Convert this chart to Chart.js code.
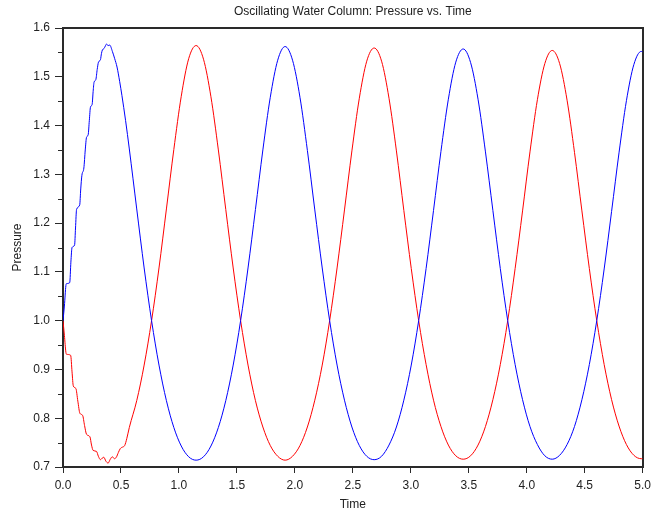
<!DOCTYPE html>
<html>
<head>
<meta charset="utf-8">
<script src="https://cdn.jsdelivr.net/npm/chart.js@4"></script>
<style>
  html, body { margin: 0; padding: 0; background: #fff; }
  #owc { display: block; }
</style>
</head>
<body>
<canvas id="owc" width="656" height="513"></canvas>
<script>
// start-up of the column (steppy part)
var blueStartTime = [0, 0.012, 0.025, 0.031, 0.058, 0.068, 0.078, 0.1, 0.108, 0.117, 0.144, 0.153, 0.163, 0.18, 0.192, 0.203, 0.217, 0.227, 0.237, 0.251, 0.26, 0.268, 0.283, 0.295, 0.306, 0.323, 0.332, 0.34, 0.354, 0.365, 0.375, 0.389, 0.403, 0.426, 0.446, 0.466, 0.489, 0.508, 0.54];
var blueStart = [1.0, 1.03, 1.072, 1.076, 1.078, 1.12, 1.15, 1.155, 1.19, 1.228, 1.237, 1.27, 1.298, 1.313, 1.35, 1.376, 1.381, 1.41, 1.438, 1.443, 1.47, 1.489, 1.494, 1.515, 1.53, 1.535, 1.548, 1.555, 1.558, 1.563, 1.567, 1.564, 1.565, 1.552, 1.537, 1.52, 1.49, 1.462, 1.41];

var redStartTime = [0, 0.012, 0.025, 0.031, 0.066, 0.078, 0.089, 0.111, 0.128, 0.146, 0.169, 0.186, 0.203, 0.232, 0.246, 0.26, 0.289, 0.305, 0.323, 0.338, 0.352, 0.37, 0.389, 0.408, 0.426, 0.443, 0.46, 0.478, 0.495, 0.515, 0.532, 0.55];
var redStart = [1.0, 0.97, 0.935, 0.931, 0.929, 0.895, 0.866, 0.861, 0.835, 0.81, 0.806, 0.785, 0.767, 0.762, 0.745, 0.734, 0.732, 0.722, 0.715, 0.718, 0.72, 0.712, 0.708, 0.716, 0.721, 0.717, 0.72, 0.73, 0.738, 0.741, 0.744, 0.758];

// settled oscillation, shared time samples
var time = [0.572, 0.636, 0.700, 0.764, 0.828, 0.892, 0.956, 1.020, 1.084, 1.148,
  1.212, 1.276, 1.340, 1.404, 1.468, 1.532, 1.596, 1.660, 1.724, 1.788, 1.852, 1.916,
  1.980, 2.044, 2.108, 2.172, 2.236, 2.300, 2.364, 2.428, 2.492, 2.556, 2.620, 2.684,
  2.748, 2.812, 2.876, 2.940, 3.004, 3.068, 3.132, 3.196, 3.260, 3.324, 3.388, 3.452,
  3.516, 3.580, 3.644, 3.708, 3.772, 3.836, 3.900, 3.964, 4.028, 4.092, 4.156, 4.220,
  4.284, 4.348, 4.412, 4.476, 4.540, 4.604, 4.668, 4.732, 4.796, 4.860, 4.924, 4.988, 5.0];
var blue = [1.352, 1.229, 1.108, 1.000, 0.909, 0.836, 0.781, 0.743, 0.721, 0.714,
  0.721, 0.743, 0.781, 0.836, 0.909, 1.000, 1.108, 1.228, 1.350, 1.458, 1.534, 1.562,
  1.534, 1.458, 1.349, 1.227, 1.108, 1.000, 0.909, 0.837, 0.782, 0.744, 0.722, 0.715,
  0.722, 0.745, 0.782, 0.837, 0.909, 1.000, 1.107, 1.226, 1.347, 1.454, 1.530, 1.557,
  1.529, 1.454, 1.346, 1.226, 1.107, 1.000, 0.910, 0.838, 0.783, 0.746, 0.723, 0.716,
  0.724, 0.746, 0.783, 0.838, 0.910, 1.000, 1.106, 1.224, 1.344, 1.451, 1.525, 1.552, 1.551];
var red = [0.781, 0.836, 0.909, 1.000, 1.108, 1.229, 1.351, 1.460, 1.537, 1.564,
  1.536, 1.459, 1.350, 1.228, 1.108, 1.000, 0.909, 0.836, 0.782, 0.744, 0.722, 0.714,
  0.722, 0.744, 0.782, 0.837, 0.909, 1.000, 1.108, 1.227, 1.348, 1.456, 1.532, 1.559,
  1.532, 1.456, 1.348, 1.226, 1.107, 1.000, 0.910, 0.837, 0.783, 0.745, 0.723, 0.716,
  0.723, 0.745, 0.783, 0.838, 0.910, 1.000, 1.107, 1.225, 1.346, 1.453, 1.527, 1.554,
  1.527, 1.452, 1.345, 1.225, 1.107, 1.000, 0.910, 0.838, 0.784, 0.746, 0.724, 0.717, 0.717];

var xTicks = [0, 0.5, 1, 1.5, 2, 2.5, 3, 3.5, 4, 4.5, 5];
var yMinor = [0.75, 0.85, 0.95, 1.05, 1.15, 1.25, 1.35, 1.45, 1.55];

function toPoints(ts, vs) {
    return ts.map(function (t, i) { return { x: t, y: vs[i] }; });
}

var axisColor = '#2a2a2a';
var textColor = '#222222';
var font = { family: '"Liberation Sans", Arial, sans-serif', size: 12 };

// petits traits secondaires sur l'axe des pressions
var minorTicks = {
    id: 'minorTicks',
    afterDraw: function (chart) {
        var ys = chart.scales.y, c = chart.ctx, left = chart.chartArea.left;
        c.save();
        c.strokeStyle = axisColor;
        c.lineWidth = 1;
        yMinor.forEach(function (v) {
            var py = Math.round(ys.getPixelForValue(v)) + 0.5;
            c.beginPath();
            c.moveTo(left - 5, py);
            c.lineTo(left, py);
            c.stroke();
        });
        c.restore();
    }
};

var ctx = document.getElementById('owc').getContext('2d');
var chart = new Chart(ctx, {
    type: 'line',
    data: {
        datasets: [{
            label: 'blue',
            data: toPoints(blueStartTime, blueStart).concat(toPoints(time, blue)),
            borderColor: 'rgb(0, 0, 255)',
            borderWidth: 1,
            pointRadius: 0,
            fill: false,
            cubicInterpolationMode: 'monotone'
        }, {
            label: 'red',
            data: toPoints(redStartTime, redStart).concat(toPoints(time, red)),
            borderColor: 'rgb(255, 0, 0)',
            borderWidth: 1,
            pointRadius: 0,
            fill: false,
            cubicInterpolationMode: 'monotone'
        }]
    },
    options: {
        responsive: false,
        animation: false,
        layout: { padding: 0 },
        plugins: {
            legend: { display: false },
            tooltip: { enabled: false },
            title: { display: false }
        },
        scales: {
            x: {
                type: 'linear',
                position: 'bottom',
                min: xTicks[0],
                max: xTicks[xTicks.length - 1],
                afterBuildTicks: function (s) { s.ticks = xTicks.map(function (v) { return { value: v }; }); },
                ticks: { color: textColor, font: font, padding: 5, maxRotation: 0,
                         callback: function (v) { return Number(v).toFixed(1); } },
                grid: { drawOnChartArea: false, drawTicks: true, tickLength: 6, tickColor: axisColor, tickWidth: 1 },
                border: { display: true, color: axisColor, width: 2 },
                title: { display: true, text: 'Time', color: textColor, font: font, padding: { top: 0, bottom: 1 } },
                afterFit: function (s) { s.height = 46; }
            },
            x2: {
                type: 'linear',
                position: 'top',
                min: 0,
                max: 5,
                ticks: { display: false },
                grid: { display: false },
                border: { display: true, color: axisColor, width: 2 },
                title: { display: true, text: 'Oscillating Water Column: Pressure vs. Time', color: textColor, font: font, padding: { top: 4, bottom: 0 } },
                afterFit: function (s) { s.height = 28; }
            },
            y: {
                type: 'linear',
                position: 'left',
                min: 0.7,
                max: 1.6,
                ticks: { stepSize: 0.1, color: textColor, font: font, padding: 5,
                         callback: function (v) { return Number(v).toFixed(1); } },
                grid: { drawOnChartArea: false, drawTicks: true, tickLength: 8, tickColor: axisColor, tickWidth: 1 },
                border: { display: true, color: axisColor, width: 2 },
                title: { display: true, text: 'Pressure', color: textColor, font: font, padding: { top: 10, bottom: 0 } },
                afterFit: function (s) { s.width = 63; }
            },
            y2: {
                type: 'linear',
                position: 'right',
                min: 0.7,
                max: 1.6,
                ticks: { display: false },
                grid: { display: false },
                border: { display: true, color: axisColor, width: 2 },
                afterFit: function (s) { s.width = 10; }
            }
        }
    },
    plugins: [minorTicks]
});
</script>
</body>
</html>
